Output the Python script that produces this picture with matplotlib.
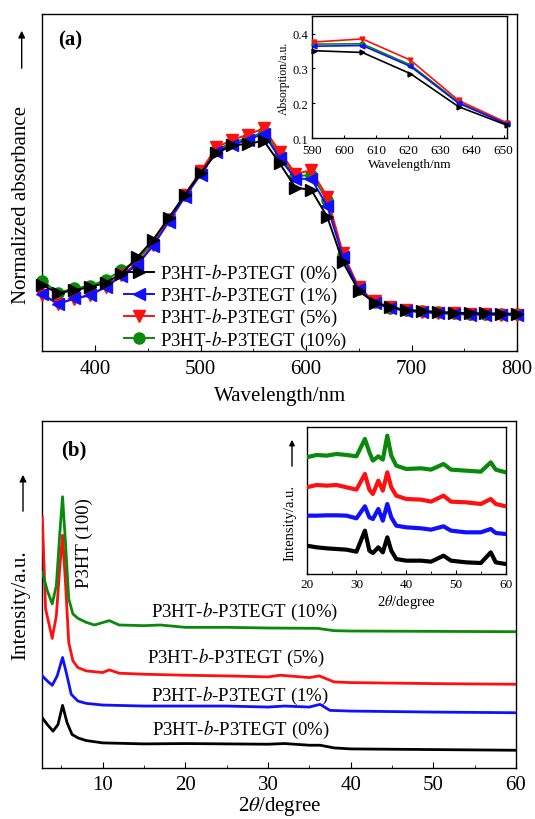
import matplotlib
matplotlib.use("Agg")
import matplotlib.pyplot as plt
from matplotlib.ticker import MultipleLocator, NullLocator

plt.rcParams['font.family'] = ['Liberation Serif', 'DejaVu Serif']
plt.rcParams['mathtext.fontset'] = 'stix'

# ---------------- UV-vis absorption (panel a) ----------------
wavelength = [350, 365, 380, 395, 410, 425, 440, 455, 470, 485, 500, 515, 530, 545, 560,
              575, 590, 605, 620, 635, 650, 665, 680, 695, 710, 725, 740, 755, 770, 785, 800]
abs_0 = [0.195, 0.170, 0.180, 0.188, 0.202, 0.228, 0.277, 0.329, 0.395, 0.462, 0.527, 0.586,
         0.609, 0.614, 0.623, 0.556, 0.484, 0.477, 0.398, 0.263, 0.177, 0.143, 0.129, 0.121,
         0.118, 0.115, 0.113, 0.111, 0.111, 0.110, 0.110]
abs_1 = [0.168, 0.139, 0.155, 0.165, 0.188, 0.222, 0.254, 0.311, 0.383, 0.455, 0.522, 0.591,
         0.611, 0.626, 0.644, 0.571, 0.510, 0.510, 0.430, 0.279, 0.182, 0.141, 0.126, 0.118,
         0.114, 0.111, 0.109, 0.107, 0.107, 0.106, 0.106]
abs_5 = [0.165, 0.139, 0.153, 0.164, 0.190, 0.225, 0.259, 0.314, 0.388, 0.462, 0.532, 0.603,
         0.626, 0.641, 0.660, 0.591, 0.525, 0.535, 0.457, 0.289, 0.188, 0.146, 0.129, 0.120,
         0.116, 0.113, 0.111, 0.109, 0.108, 0.107, 0.107]
abs_10 = [0.207, 0.172, 0.185, 0.192, 0.210, 0.238, 0.269, 0.321, 0.390, 0.462, 0.529, 0.596,
          0.618, 0.630, 0.650, 0.581, 0.517, 0.522, 0.448, 0.284, 0.184, 0.144, 0.128, 0.120,
          0.117, 0.114, 0.112, 0.110, 0.110, 0.109, 0.109]

# zoomed absorption around the shoulder
inset_wl = [590.6, 605.7, 620.8, 635.9, 651.0]
inset_0 = [0.351, 0.346, 0.285, 0.190, 0.137]
inset_1 = [0.364, 0.366, 0.306, 0.200, 0.140]
inset_5 = [0.376, 0.385, 0.324, 0.208, 0.144]
inset_10 = [0.370, 0.371, 0.310, 0.203, 0.142]

# ---------------- XRD (panel b) ----------------
tt_0 = [2.7, 3.3, 4.0, 4.6, 5.15, 5.7, 6.3, 7.0, 8, 10, 15, 20, 25, 30, 32, 35, 36.3, 38, 40, 50, 60]
xrd_0 = [150, 130, 110, 130, 187, 135, 100, 90, 82, 75, 72, 73, 72, 71, 73, 68, 68, 60, 57, 55, 53]
tt_1 = [2.7, 3.3, 3.9, 4.5, 5.15, 5.6, 6.2, 7.0, 8, 10, 15, 20, 25, 30, 32, 35, 36.3, 37.5, 40, 50, 60]
xrd_1 = [275, 260, 247, 275, 330, 285, 220, 200, 193, 188, 185, 185, 185, 182, 185, 182, 190, 172, 170, 167, 165]
tt_5 = [2.7, 3.1, 3.9, 4.4, 4.8, 5.15, 5.5, 5.9, 6.4, 7, 8, 10, 10.8, 12, 15, 20, 25, 30, 31.5, 35, 36.2, 38, 40, 50, 60]
xrd_5 = [750, 475, 387, 455, 595, 695, 555, 375, 320, 300, 290, 285, 293, 283, 280, 277, 275, 272, 277, 270, 275, 257, 255, 252, 250]
tt_10 = [2.7, 3.3, 3.9, 4.4, 4.8, 5.15, 5.5, 5.9, 6.4, 7, 8, 9, 10.8, 12, 15, 17, 20, 25, 30, 36, 38, 40, 50, 60]
xrd_10 = [585, 530, 490, 545, 695, 810, 675, 505, 460, 447, 435, 427, 440, 427, 425, 427, 420, 420, 418, 417, 410, 409, 408, 407]

# wide-angle region
tt_w = [20, 22, 24, 26, 28, 30, 31.7, 32.6, 33.3, 34.4, 35.3, 36.2, 37, 38, 40, 43, 45, 47.5, 49, 52, 55, 57, 58, 60]
w_0 = [85, 80, 77, 75, 73, 67, 130, 70, 63, 80, 65, 110, 70, 45, 40, 40, 37, 55, 40, 35, 33, 65, 35, 30]
w_1 = [175, 175, 176, 176, 175, 167, 203, 170, 165, 195, 160, 210, 170, 145, 140, 137, 133, 143, 130, 125, 125, 135, 123, 120]
w_5 = [260, 267, 265, 267, 260, 253, 300, 253, 240, 280, 250, 305, 260, 235, 225, 223, 217, 235, 217, 215, 210, 225, 210, 203]
w_10 = [350, 357, 355, 360, 357, 353, 405, 365, 340, 353, 343, 415, 355, 325, 315, 317, 313, 330, 313, 310, 307, 335, 313, 305]

labels = [r'P3HT-$b$-P3TEGT (0%)', r'P3HT-$b$-P3TEGT (1%)',
          r'P3HT-$b$-P3TEGT (5%)', r'P3HT-$b$-P3TEGT (10%)']
colors = ['#000000', '#1010ff', '#ff1010', '#0a8a0a']
markers = ['>', '<', 'v', 'o']

W, H = 535, 820
fig = plt.figure(figsize=(W / 100, H / 100), dpi=100)


def box(l, t, r, b):
    return [l / W, 1 - b / H, (r - l) / W, (b - t) / H]


def style_axes(ax, size):
    ax.tick_params(which='both', direction='in', top=False, right=False, labelsize=size)
    for s in ax.spines.values():
        s.set_linewidth(1.0)


# ---- panel a ----
axa = fig.add_axes(box(42.3, 14.7, 517, 351.7))
series_a = [abs_0, abs_1, abs_5, abs_10]
handles = [None] * 4
for i in [3, 2, 1, 0]:
    h, = axa.plot(wavelength, series_a[i], color=colors[i], marker=markers[i], ms=8,
                  lw=1.4, label=labels[i], clip_on=False, zorder=3 + (3 - i))
    handles[i] = h
axa.set_xlim(350, 800)
axa.set_ylim(0, 1)
axa.xaxis.set_major_locator(MultipleLocator(100))
axa.xaxis.set_minor_locator(MultipleLocator(50))
axa.yaxis.set_major_locator(NullLocator())
style_axes(axa, 15)
axa.tick_params(which='major', length=4, pad=6)
axa.tick_params(which='minor', length=2.5)
axa.set_xlabel('Wavelength/nm', fontsize=15, labelpad=6)
axa.legend(handles=handles, loc='upper left', bbox_to_anchor=(124 / W, 1 - 263 / H),
           bbox_transform=fig.transFigure, frameon=False, fontsize=13.5, borderpad=0,
           borderaxespad=0, labelspacing=0.0, handlelength=1.6, handletextpad=0.3)
fig.text(58 / W, 1 - 40 / H, '(a)', fontsize=15, fontweight='bold', va='center', ha='left')
fig.text(21.5 / W, 1 - 205 / H, 'Normalized absorbance', fontsize=15, rotation=90,
         va='center', ha='center')
fig.patches.append(matplotlib.patches.FancyArrowPatch(
    (21.7 / W, 1 - 72 / H), (21.7 / W, 1 - 29 / H), transform=fig.transFigure,
    arrowstyle='-|>', mutation_scale=10, lw=1.0, color='black'))

# inset a
axai = fig.add_axes(box(312.3, 17.3, 506.7, 139))
series_ai = [inset_0, inset_1, inset_5, inset_10]
for i in [3, 2, 1, 0]:
    axai.plot(inset_wl, series_ai[i], color=colors[i], marker=markers[i], ms=3.5,
              lw=1.2, clip_on=False, zorder=3 + (3 - i))
axai.set_xlim(590, 651)
axai.set_ylim(0.1, 0.45)
axai.set_xticks([590, 600, 610, 620, 630, 640, 650])
axai.set_yticks([0.1, 0.2, 0.3, 0.4])
style_axes(axai, 9.5)
axai.tick_params(axis='x', length=2.5, pad=4.5)
axai.tick_params(axis='y', length=2.5, pad=3, labelsize=9)
axai.set_xlabel('Wavelength/nm', fontsize=9.5, labelpad=1.5)
axai.set_ylabel('Absorption/a.u.', fontsize=8.5, labelpad=1.5)

# ---- panel b ----
axb = fig.add_axes(box(42.3, 421.7, 516, 769))
xrd = [(tt_0, xrd_0), (tt_1, xrd_1), (tt_5, xrd_5), (tt_10, xrd_10)]
for i in [3, 2, 1, 0]:
    axb.plot(xrd[i][0], xrd[i][1], color=colors[i], lw=2.0, zorder=3 + i)
axb.set_xlim(2.7, 60)
axb.set_ylim(0, 1037)
axb.xaxis.set_major_locator(MultipleLocator(10))
axb.xaxis.set_minor_locator(MultipleLocator(5))
axb.yaxis.set_major_locator(NullLocator())
style_axes(axb, 15)
axb.tick_params(which='major', length=4, pad=5)
axb.tick_params(which='minor', length=2.5)
axb.set_xlabel(r'2$\theta$/degree', fontsize=15, labelpad=0)
fig.text(61 / W, 1 - 450 / H, '(b)', fontsize=15, fontweight='bold', va='center', ha='left')
fig.text(21 / W, 1 - 605 / H, 'Intensity/a.u.', fontsize=15, rotation=90,
         va='center', ha='center')
fig.patches.append(matplotlib.patches.FancyArrowPatch(
    (23 / W, 1 - 515 / H), (23 / W, 1 - 473 / H), transform=fig.transFigure,
    arrowstyle='-|>', mutation_scale=10, lw=1.0, color='black'))
fig.text(84 / W, 1 - 543 / H, 'P3HT (100)', fontsize=13.5, rotation=90,
         va='center', ha='center')
label_pos = [(152, 730), (151, 696), (147, 658), (151, 612)]
for i, (lx, ly) in enumerate(label_pos):
    fig.text(lx / W, 1 - ly / H, labels[i], fontsize=13.5, va='center', ha='left')

# inset b
axbi = fig.add_axes(box(306.7, 428.3, 505.7, 575))
wide = [w_0, w_1, w_5, w_10]
for i in [3, 2, 1, 0]:
    axbi.plot(tt_w, wide[i], color=colors[i], lw=3.0, zorder=3 + i)
axbi.set_xlim(20, 60)
axbi.set_ylim(0, 440)
axbi.xaxis.set_major_locator(MultipleLocator(10))
axbi.xaxis.set_minor_locator(MultipleLocator(5))
axbi.yaxis.set_major_locator(NullLocator())
style_axes(axbi, 9.5)
axbi.tick_params(which='major', length=3, pad=3)
axbi.tick_params(which='minor', length=2)
axbi.set_xlabel(r'2$\theta$/degree', fontsize=10.5, labelpad=1)
fig.text(290 / W, 1 - 523 / H, 'Intensity/a.u.', fontsize=10.5, rotation=90,
         va='center', ha='center')
fig.patches.append(matplotlib.patches.FancyArrowPatch(
    (292 / W, 1 - 470 / H), (292 / W, 1 - 438 / H), transform=fig.transFigure,
    arrowstyle='-|>', mutation_scale=8, lw=1.0, color='black'))

fig.savefig('out.png', dpi=100)
